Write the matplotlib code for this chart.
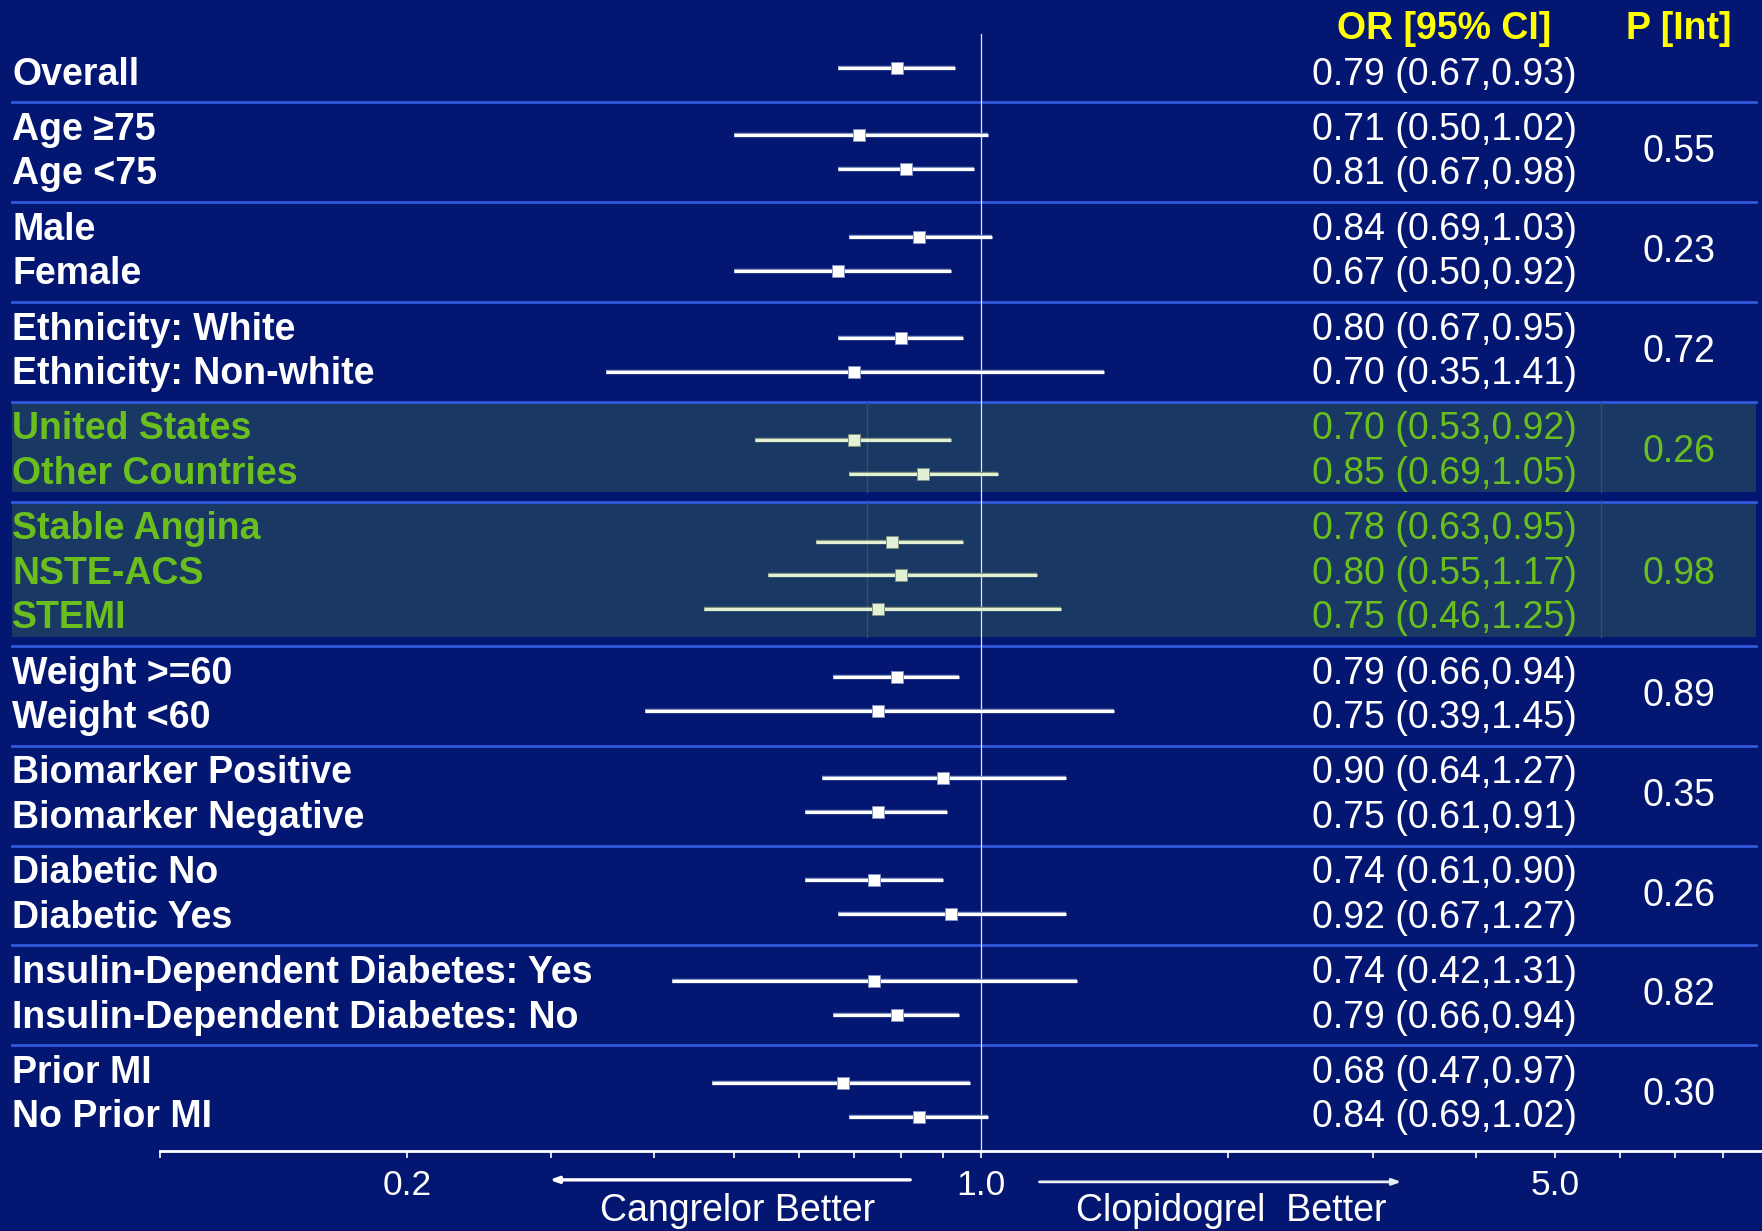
import matplotlib
matplotlib.use("Agg")
import matplotlib.pyplot as plt
import matplotlib.patheffects as pe
from matplotlib.transforms import blended_transform_factory

# ---------------- data ----------------
labels = ["Overall", "Age \u226575", "Age <75", "Male", "Female",
          "Ethnicity: White", "Ethnicity: Non-white",
          "United States", "Other Countries",
          "Stable Angina", "NSTE-ACS", "STEMI",
          "Weight >=60", "Weight <60",
          "Biomarker Positive", "Biomarker Negative",
          "Diabetic No", "Diabetic Yes",
          "Insulin-Dependent Diabetes: Yes", "Insulin-Dependent Diabetes: No",
          "Prior MI", "No Prior MI"]
odds = [0.79, 0.71, 0.81, 0.84, 0.67, 0.80, 0.70, 0.70, 0.85, 0.78, 0.80,
        0.75, 0.79, 0.75, 0.90, 0.75, 0.74, 0.92, 0.74, 0.79, 0.68, 0.84]
ci_low = [0.67, 0.50, 0.67, 0.69, 0.50, 0.67, 0.35, 0.53, 0.69, 0.63, 0.55,
          0.46, 0.66, 0.39, 0.64, 0.61, 0.61, 0.67, 0.42, 0.66, 0.47, 0.69]
ci_high = [0.93, 1.02, 0.98, 1.03, 0.92, 0.95, 1.41, 0.92, 1.05, 0.95, 1.17,
           1.25, 0.94, 1.45, 1.27, 0.91, 0.90, 1.27, 1.31, 0.94, 0.97, 1.02]
group_sizes = [1, 2, 2, 2, 2, 3, 2, 2, 2, 2, 2]
p_int = ["", "0.55", "0.23", "0.72", "0.26", "0.98", "0.89", "0.35", "0.26", "0.82", "0.30"]
highlight = [False, False, False, False, True, True, False, False, False, False, False]
tick_values = [0.1, 0.2, 0.3, 0.4, 0.5, 0.6, 0.7, 0.8, 0.9, 1.0, 2, 3, 4, 5, 6, 7, 8]
tick_labels = ["", "0.2", "", "", "", "", "", "", "", "1.0", "", "", "", "5.0", "", "", ""]
header_or = "OR [95% CI]"
header_p = "P [Int]"
left_note = "Cangrelor Better"
right_note = "Clopidogrel  Better"

# ---------------- style ----------------
BG = "#031772"
SHADE = "#1a3864"
SEP = "#3359dc"
GREEN = "#6abe1e"
YELLOW = "#ffff00"
WHITE = "#ffffff"
LIGHT = "#e2f0d4"
FAINT = "#2d5858"
FONT = ["Liberation Sans", "DejaVu Sans"]
plt.rcParams["font.family"] = FONT

W, H = 17.62, 12.31
fig = plt.figure(figsize=(W, H), dpi=100, facecolor=BG)
ax = fig.add_axes([0, 0, 1, 1])
ax.set_facecolor(BG)
ax.set_xscale("log")
ax.set_xlim(10 ** (-873 / 731), 10 ** ((1568 - 873) / 731))
ax.set_ylim(1095, 0)
blend = blended_transform_factory(ax.transAxes, ax.transData)

for s in ["left", "right", "top"]:
    ax.spines[s].set_visible(False)
ax.spines["bottom"].set_position(("data", 1024))
ax.spines["bottom"].set_bounds(0.1, ax.get_xlim()[1])
ax.spines["bottom"].set_color(WHITE)
ax.spines["bottom"].set_linewidth(2.0)
ax.set_yticks([])
ax.xaxis.set_minor_locator(matplotlib.ticker.NullLocator())
ax.set_xticks(tick_values)
ax.set_xticklabels(tick_labels)
ax.tick_params(axis="x", direction="out", length=5, width=1.2, color=WHITE,
               labelcolor=WHITE, labelsize=25.5, pad=7.5)

FS = 27
x_left = 11 / 1568
x_or = 1403 / 1568
x_p = 1494 / 1568
x_sep0, x_sep1 = 12 / 1762, 1756 / 1762

# headers
ax.text(1285 / 1568, 35, header_or, transform=blend, color=YELLOW, fontsize=FS,
        fontweight="bold", ha="center", va="baseline")
ax.text(x_p, 35, header_p, transform=blend, color=YELLOW, fontsize=FS,
        fontweight="bold", ha="center", va="baseline")

# reference line at OR = 1
ax.plot([1, 1], [30, 1024], color="#dfe6ee", lw=0.9, zorder=2)

ROW = 39.6
GAP = 9.6
HALF_CAP = 12.0
label_top = 91 - ROW - GAP
slot = 0
row = 0
for g, n in enumerate(group_sizes):
    color_txt = GREEN if highlight[g] else WHITE
    color_mark = LIGHT if highlight[g] else WHITE
    edge = "#7f8f80" if highlight[g] else "#8090c0"
    if g > 0:
        ax.axhline(label_top, xmin=x_sep0, xmax=x_sep1, color=SEP, lw=2.0, zorder=1)
    if highlight[g]:
        ax.axhspan(label_top + 1.2, label_top + n * ROW + 1.2, xmin=x_sep0, xmax=x_sep1,
                   color=SHADE, lw=0, zorder=0)
        for xf in (867 / 1762, 1601 / 1762):
            ax.plot([xf, xf], [label_top - 1, label_top + n * ROW + 1.2],
                    transform=blend, color=FAINT, lw=0.9, zorder=1)
    centers = []
    for i in range(n):
        yc = label_top + 21.5 + i * ROW
        centers.append(yc)
        ax.text(x_left, yc + HALF_CAP, labels[row], transform=blend, color=color_txt,
                fontsize=FS, fontweight="bold", ha="left", va="baseline")
        ax.text(x_or, yc + HALF_CAP,
                f"{odds[row]:.2f} ({ci_low[row]:.2f},{ci_high[row]:.2f})",
                transform=blend, color=color_txt, fontsize=FS, ha="right", va="baseline")
        ym = 60.3 + slot * 30.1
        ax.plot([ci_low[row], ci_high[row]], [ym, ym], color=color_mark, lw=2.2,
                solid_capstyle="butt", zorder=3,
                path_effects=[pe.Stroke(linewidth=3.2, foreground=edge), pe.Normal()])
        ax.plot([odds[row]], [ym], marker="s", markersize=8.8, color=color_mark,
                markeredgecolor=edge, markeredgewidth=0.7, zorder=4, linestyle="none")
        slot += 1
        row += 1
    if p_int[g]:
        ax.text(x_p, sum(centers) / n + HALF_CAP, p_int[g], transform=blend,
                color=color_txt, fontsize=FS, ha="center", va="baseline")
    slot += 1
    label_top += n * ROW + GAP

# direction arrows and notes
ax.annotate("", xy=(489 / 1568, 1049.5), xytext=(810 / 1568, 1049.5),
            xycoords=blend, textcoords=blend,
            arrowprops=dict(arrowstyle="-|>,head_length=0.5,head_width=0.18",
                            color=WHITE, lw=2.4, shrinkA=0, shrinkB=0))
ax.annotate("", xy=(1247 / 1568, 1051.3), xytext=(925 / 1568, 1051.3),
            xycoords=blend, textcoords=blend,
            arrowprops=dict(arrowstyle="-|>,head_length=0.5,head_width=0.18",
                            color="#e8ecf4", lw=2.0, shrinkA=0, shrinkB=0))
ax.text(656 / 1568, 1086.5, left_note, transform=blend, color=WHITE, fontsize=FS,
        ha="center", va="baseline")
ax.text(1095.5 / 1568, 1086.5, right_note, transform=blend, color=WHITE, fontsize=FS,
        ha="center", va="baseline")

fig.savefig("out.png", dpi=100, facecolor=BG)
